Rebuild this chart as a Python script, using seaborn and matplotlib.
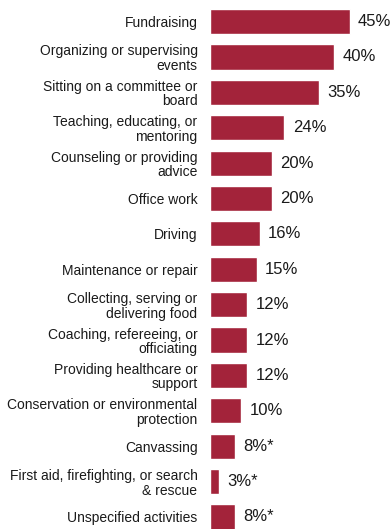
import numpy as np
import pandas as pd
import seaborn as sns
import matplotlib.pyplot as plt

#%% data
activities = ['Fundraising',
              'Organizing or supervising\nevents',
              'Sitting on a committee or\nboard',
              'Teaching, educating, or\nmentoring',
              'Counseling or providing\nadvice',
              'Office work',
              'Driving',
              'Maintenance or repair',
              'Collecting, serving or\ndelivering food',
              'Coaching, refereeing, or\nofficiating',
              'Providing healthcare or\nsupport',
              'Conservation or environmental\nprotection',
              'Canvassing',
              'First aid, firefighting, or search\n& rescue',
              'Unspecified activities']
share = [45, 40, 35, 24, 20, 20, 16, 15, 12, 12, 12, 10, 8, 3, 8]
share_labels = ['45%', '40%', '35%', '24%', '20%', '20%', '16%', '15%',
                '12%', '12%', '12%', '10%', '8%*', '3%*', '8%*']

df = pd.DataFrame({'activity': activities, 'share': share})

#%% plot
sns.set_style('white')
plt.rcParams['font.family'] = ['Liberation Sans', 'DejaVu Sans']

fig = plt.figure(figsize=(3.9, 5.29), dpi=100)
ax = fig.add_axes([210 / 390, 0, 180 / 390, 1])

sns.barplot(data=df, x='share', y='activity', orient='h', color='#a3233a',
            saturation=1, width=0.71, ax=ax)
ax.bar_label(ax.containers[0], labels=share_labels, padding=6, fontsize=12,
             color='#1a1a1a')

ax.set(xlim=[0, 58], ylim=[14.34, -0.61], xlabel='', ylabel='', xticks=[])
ax.tick_params(axis='y', length=0, pad=9, labelsize=10, labelcolor='#1a1a1a')
for t in ax.get_yticklabels():
    t.set_linespacing(1.05)
sns.despine(left=True, bottom=True)

fig.savefig('out.png', dpi=100, facecolor='white')
